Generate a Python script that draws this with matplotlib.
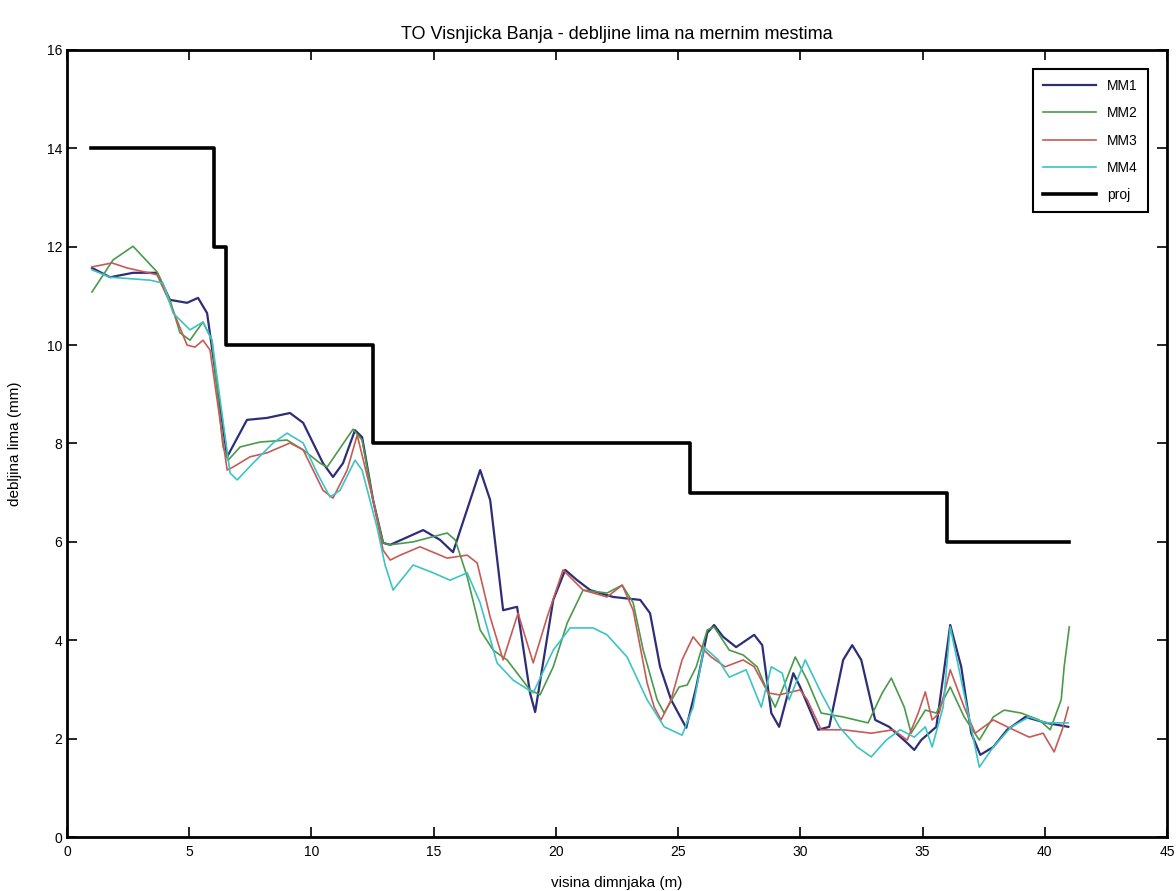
import matplotlib.pyplot as plt
import numpy as np

plt.rcParams['font.family'] = ['Liberation Sans', 'DejaVu Sans']

# projektovane debljine
proj_x = [1, 6, 6, 6.5, 6.5, 12.5, 12.5, 25.5, 25.5, 36, 36, 41]
proj_y = [14, 14, 12, 12, 10, 10, 8, 8, 7, 7, 6, 6]

# merno mesto 1
mm1_x = [1.02, 1.76, 2.70, 3.68, 4.21, 4.91, 5.36, 5.73, 6.55, 7.36, 8.18, 9.12, 9.66,
         10.47, 10.88, 11.29, 11.78, 12.07, 12.52, 12.93, 13.22, 14.57, 15.26, 15.79,
         16.90, 17.31, 17.84, 18.41, 18.94, 19.15, 19.89, 20.38, 20.87, 21.40, 22.34,
         23.45, 23.85, 24.26, 24.71, 25.33, 25.74, 26.19, 26.47, 26.84, 27.37, 28.11,
         28.44, 28.81, 29.13, 29.71, 29.99, 30.73, 31.18, 31.75, 32.12, 32.49, 33.06,
         33.63, 34.37, 34.66, 34.94, 35.56, 36.13, 36.58, 36.99, 37.36, 37.89, 38.46,
         39.20, 40.06, 40.96]
mm1_y = [11.57, 11.38, 11.47, 11.47, 10.92, 10.86, 10.96, 10.65, 7.73, 8.48, 8.52, 8.62, 8.42,
         7.60, 7.32, 7.60, 8.27, 8.13, 6.85, 5.98, 5.94, 6.24, 6.04, 5.79,
         7.46, 6.85, 4.61, 4.68, 2.93, 2.54, 4.82, 5.43, 5.22, 5.02, 4.88,
         4.82, 4.55, 3.46, 2.79, 2.22, 3.05, 4.15, 4.31, 4.07, 3.86, 4.11,
         3.90, 2.52, 2.24, 3.33, 3.05, 2.18, 2.24, 3.60, 3.90, 3.60, 2.38,
         2.24, 1.91, 1.77, 1.97, 2.24, 4.31, 3.46, 2.11, 1.67, 1.83, 2.18,
         2.44, 2.32, 2.24]

# merno mesto 2
mm2_x = [1.02, 1.88, 2.70, 3.68, 4.21, 4.62, 5.03, 5.56, 5.93, 6.38, 6.59, 7.08, 7.90, 9.00,
         9.66, 10.35, 10.64, 11.70, 12.07, 12.52, 12.93, 13.22, 14.16, 15.55, 15.88, 16.37,
         16.90, 17.43, 18.00, 18.94, 19.35, 19.89, 20.46, 21.11, 22.09, 22.71, 23.16, 23.57,
         24.14, 24.43, 25.04, 25.37, 25.74, 26.19, 26.47, 27.09, 27.66, 28.23, 28.68, 28.97,
         29.42, 29.79, 30.28, 30.85, 31.75, 32.77, 33.35, 33.72, 34.25, 34.53, 35.11, 35.56,
         36.13, 36.70, 37.32, 37.89, 38.34, 39.03, 39.77, 40.22, 40.67, 40.79, 41.0]
mm2_y = [11.08, 11.73, 12.01, 11.49, 10.92, 10.25, 10.10, 10.47, 10.10, 7.93, 7.66, 7.93, 8.03, 8.07,
         7.87, 7.60, 7.52, 8.29, 8.07, 6.85, 5.98, 5.94, 6.00, 6.18, 6.04, 5.29,
         4.21, 3.80, 3.60, 2.99, 2.89, 3.46, 4.35, 5.02, 4.96, 5.12, 4.76, 3.80,
         2.79, 2.52, 3.05, 3.09, 3.46, 4.21, 4.27, 3.80, 3.70, 3.46, 2.93, 2.64,
         3.19, 3.66, 3.19, 2.52, 2.44, 2.32, 2.93, 3.23, 2.64, 2.11, 2.58, 2.52,
         3.05, 2.44, 1.97, 2.44, 2.58, 2.52, 2.38, 2.18, 2.79, 3.46, 4.27]

# merno mesto 3
mm3_x = [1.02, 1.84, 2.45, 3.68, 4.21, 4.91, 5.24, 5.56, 5.85, 6.55, 6.79, 7.49, 8.18, 9.12,
         9.66, 10.47, 10.88, 11.46, 11.87, 12.52, 12.93, 13.22, 13.63, 14.44, 15.55, 16.37,
         16.78, 17.31, 17.84, 18.45, 19.07, 19.64, 20.29, 21.11, 22.09, 22.71, 23.16, 23.73,
         24.02, 24.30, 24.71, 25.16, 25.61, 26.06, 26.35, 26.92, 27.66, 28.11, 28.68, 29.13,
         29.99, 30.28, 30.85, 31.75, 32.90, 33.80, 34.37, 34.82, 35.11, 35.39, 35.68, 36.13,
         36.70, 37.15, 37.89, 38.46, 39.36, 39.93, 40.38, 40.71, 40.96]
mm3_y = [11.59, 11.67, 11.57, 11.43, 10.86, 10.00, 9.96, 10.10, 9.90, 7.46, 7.52, 7.73, 7.81, 8.01,
         7.87, 7.05, 6.89, 7.46, 8.17, 6.85, 5.83, 5.63, 5.73, 5.90, 5.67, 5.73,
         5.57, 4.47, 3.60, 4.55, 3.54, 4.47, 5.43, 5.02, 4.88, 5.12, 4.61, 3.13,
         2.64, 2.38, 2.79, 3.60, 4.07, 3.80, 3.66, 3.46, 3.60, 3.46, 2.93, 2.89,
         2.99, 2.79, 2.18, 2.18, 2.11, 2.18, 1.97, 2.52, 2.95, 2.38, 2.52, 3.40,
         2.64, 2.11, 2.38, 2.24, 2.03, 2.11, 1.73, 2.18, 2.64]

# merno mesto 4
mm4_x = [1.02, 1.76, 3.40, 3.93, 4.34, 5.03, 5.56, 5.93, 6.67, 6.96, 7.61, 8.43, 9.00, 9.66,
         10.23, 10.76, 11.17, 11.78, 12.07, 12.68, 13.01, 13.34, 14.16, 14.98, 15.67, 16.37,
         16.90, 17.59, 18.25, 19.07, 19.89, 20.58, 21.52, 22.09, 22.91, 23.73, 24.43, 25.16,
         25.61, 26.06, 26.64, 27.09, 27.78, 28.40, 28.81, 29.26, 29.54, 30.20, 30.85, 31.59,
         32.32, 32.90, 33.51, 34.08, 34.66, 35.11, 35.39, 35.84, 36.13, 36.58, 37.32, 37.89,
         38.63, 39.36, 40.06, 40.96]
mm4_y = [11.53, 11.38, 11.32, 11.26, 10.65, 10.31, 10.47, 10.10, 7.40, 7.26, 7.60, 8.01, 8.21, 8.01,
         7.40, 6.91, 7.05, 7.66, 7.46, 6.30, 5.53, 5.02, 5.53, 5.37, 5.22, 5.37,
         4.76, 3.54, 3.19, 2.93, 3.80, 4.25, 4.25, 4.11, 3.66, 2.79, 2.24, 2.07,
         2.64, 3.86, 3.60, 3.25, 3.40, 2.64, 3.46, 3.33, 2.79, 3.60, 2.93, 2.24,
         1.83, 1.63, 1.97, 2.18, 2.03, 2.24, 1.83, 2.64, 4.27, 3.19, 1.42, 1.83,
         2.24, 2.44, 2.32, 2.32]

fig = plt.figure(figsize=(11.76, 8.91), dpi=100)
ax = fig.add_axes([0.057, 0.0606, 0.9354, 0.8833])

ax.plot(mm1_x, mm1_y, color='#2e2e78', lw=1.6, label='MM1')
ax.plot(mm2_x, mm2_y, color='#4a9a4a', lw=1.2, label='MM2')
ax.plot(mm3_x, mm3_y, color='#c85a55', lw=1.2, label='MM3')
ax.plot(mm4_x, mm4_y, color='#3cc4c4', lw=1.2, label='MM4')
ax.plot(proj_x, proj_y, color='black', lw=2.6, label='proj')

ax.set_xlim(0, 45)
ax.set_ylim(0, 16)
ax.set_xticks(np.arange(0, 46, 5))
ax.set_yticks(np.arange(0, 17, 2))
ax.tick_params(direction='in', top=True, right=True, length=7, width=1.2, labelsize=10)
ax.tick_params(axis='x', pad=6)
for s in ax.spines.values():
    s.set_linewidth(2)

ax.set_title('TO Visnjicka Banja - debljine lima na mernim mestima', fontsize=13, pad=8)
ax.set_xlabel('visina dimnjaka (m)', fontsize=11, labelpad=12)
ax.set_ylabel('debljina lima (mm)', fontsize=11, labelpad=18)

leg = ax.legend(loc='upper right', fontsize=10, handlelength=3.8, borderaxespad=1.4,
                fancybox=False, edgecolor='black', framealpha=1, labelspacing=0.95,
                borderpad=0.7)
leg.get_frame().set_linewidth(1.5)

fig.savefig('out.png', dpi=100)
